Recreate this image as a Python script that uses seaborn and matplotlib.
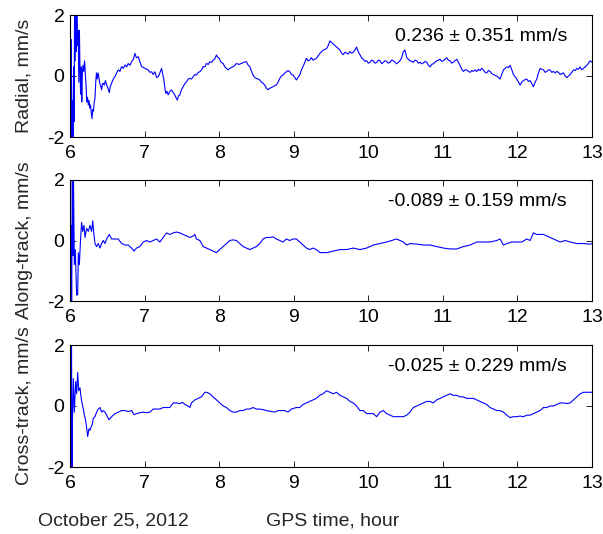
import matplotlib
matplotlib.use("Agg")
import matplotlib.pyplot as plt
import seaborn as sns
import pandas as pd

sns.set_style("ticks")
plt.rcParams["font.family"] = ["Liberation Sans", "DejaVu Sans"]

# ---------------- data ----------------
radial_t = [6.000, 6.005, 6.010, 6.018, 6.025, 6.032, 6.040, 6.048, 6.055, 6.062, 6.070, 6.078,
            6.086, 6.094, 6.102, 6.110, 6.118, 6.126, 6.134, 6.142, 6.150, 6.158, 6.166, 6.175,
            6.185, 6.195, 6.205, 6.215, 6.225, 6.235, 6.245, 6.255, 6.265, 6.275, 6.285, 6.295,
            6.305, 6.315, 6.325, 6.335, 6.345, 6.355, 6.365, 6.375, 6.385, 6.400, 6.415, 6.424,
            6.435, 6.446, 6.460, 6.475, 6.491, 6.510, 6.527, 6.540, 6.558, 6.580, 6.603, 6.625,
            6.647, 6.670, 6.692, 6.715, 6.737, 6.760, 6.781, 6.805, 6.826, 6.850, 6.871, 6.890,
            6.915, 6.940, 6.960, 6.985, 7.004, 7.030, 7.049, 7.070, 7.094, 7.115, 7.138, 7.160,
            7.183, 7.205, 7.228, 7.245, 7.259, 7.275, 7.286, 7.300, 7.317, 7.340, 7.362, 7.385,
            7.406, 7.420, 7.438, 7.455, 7.473, 7.495, 7.518, 7.540, 7.563, 7.585, 7.607, 7.630,
            7.652, 7.675, 7.696, 7.720, 7.741, 7.765, 7.786, 7.810, 7.830, 7.855, 7.875, 7.900,
            7.920, 7.940, 7.964, 7.985, 8.000, 8.025, 8.054, 8.075, 8.098, 8.120, 8.143, 8.165,
            8.188, 8.210, 8.232, 8.265, 8.299, 8.330, 8.366, 8.390, 8.411, 8.435, 8.455, 8.478,
            8.500, 8.523, 8.545, 8.567, 8.589, 8.612, 8.634, 8.656, 8.679, 8.700, 8.723, 8.745,
            8.768, 8.790, 8.813, 8.835, 8.857, 8.880, 8.902, 8.925, 8.946, 8.970, 8.991, 9.015,
            9.036, 9.058, 9.080, 9.103, 9.125, 9.150, 9.170, 9.192, 9.214, 9.237, 9.259, 9.282,
            9.304, 9.351, 9.396, 9.441, 9.463, 9.485, 9.508, 9.530, 9.553, 9.575, 9.598, 9.620,
            9.642, 9.664, 9.687, 9.709, 9.731, 9.754, 9.776, 9.799, 9.821, 9.843, 9.865, 9.888,
            9.910, 9.933, 9.955, 9.978, 10.000, 10.022, 10.045, 10.067, 10.090, 10.112, 10.135,
            10.157, 10.180, 10.201, 10.224, 10.246, 10.269, 10.291, 10.313, 10.336, 10.358,
            10.380, 10.403, 10.425, 10.448, 10.470, 10.492, 10.515, 10.537, 10.559, 10.582,
            10.604, 10.627, 10.649, 10.672, 10.694, 10.716, 10.738, 10.761, 10.783, 10.806,
            10.828, 10.850, 10.872, 10.895, 10.917, 10.940, 10.962, 10.985, 11.007, 11.030,
            11.051, 11.074, 11.096, 11.119, 11.141, 11.163, 11.186, 11.208, 11.230, 11.253,
            11.275, 11.298, 11.320, 11.342, 11.365, 11.387, 11.409, 11.432, 11.454, 11.477,
            11.499, 11.521, 11.544, 11.566, 11.588, 11.611, 11.633, 11.656, 11.678, 11.700,
            11.723, 11.745, 11.767, 11.790, 11.812, 11.835, 11.857, 11.880, 11.902, 11.925,
            11.946, 11.969, 11.991, 12.014, 12.036, 12.058, 12.081, 12.103, 12.125, 12.148,
            12.170, 12.193, 12.215, 12.237, 12.260, 12.282, 12.304, 12.327, 12.349, 12.372,
            12.394, 12.416, 12.438, 12.461, 12.483, 12.506, 12.528, 12.550, 12.573, 12.595,
            12.617, 12.640, 12.662, 12.685, 12.707, 12.730, 12.752, 12.775, 12.796, 12.819,
            12.841, 12.864, 12.886, 12.909, 12.931, 12.953, 12.975, 13.000]
radial_v = [0.0, 2.5, -2.5, 1.2, -2.5, -0.8, -2.5, 0.3, -1.5, 2.5, 0.5, 2.5,
            0.8, 2.5, 1.0, 1.5, -0.2, 1.5, 0.2, -0.6, 0.3, -0.85, 0.1, 0.35,
            0.15, 0.5, 0.1, -0.3, -0.85, -0.7, -0.95, -0.8, -1.05, -0.95, -1.2, -1.4,
            -1.1, -1.15, -0.85, -0.75, -0.2, 0.1, -0.1, 0.1, 0.0, -0.25, -0.35, -0.45,
            -0.25, -0.24, -0.3, -0.15, -0.29, -0.4, -0.55, -0.35, -0.24, -0.1, -0.02, 0.1,
            0.2, 0.15, 0.31, 0.25, 0.36, 0.3, 0.41, 0.35, 0.47, 0.55, 0.74, 0.6,
            0.63, 0.45, 0.31, 0.28, 0.25, 0.22, 0.20, 0.12, 0.14, 0.05, 0.14, -0.05,
            -0.02, 0.1, 0.25, 0.05, -0.13, -0.45, -0.57, -0.5, -0.62, -0.5, -0.46, -0.55,
            -0.62, -0.7, -0.79, -0.65, -0.62, -0.45, -0.35, -0.25, -0.19, -0.1, -0.08, -0.1,
            -0.02, 0.05, 0.03, 0.12, 0.14, 0.2, 0.31, 0.3, 0.41, 0.38, 0.47, 0.45,
            0.52, 0.55, 0.69, 0.6, 0.58, 0.45, 0.41, 0.3, 0.25, 0.2, 0.25, 0.28,
            0.31, 0.35, 0.41, 0.38, 0.41, 0.45, 0.47, 0.35, 0.31, 0.15, 0.03, -0.05,
            -0.08, -0.1, -0.13, -0.2, -0.24, -0.3, -0.4, -0.45, -0.40, -0.38, -0.35, -0.32,
            -0.29, -0.2, -0.08, 0.0, 0.03, 0.1, 0.14, 0.18, 0.14, 0.05, 0.03, -0.05,
            -0.13, -0.05, 0.03, 0.2, 0.31, 0.45, 0.58, 0.5, 0.52, 0.6, 0.52, 0.55,
            0.58, 0.74, 0.85, 0.90, 1.0, 1.15, 1.1, 1.05, 1.0, 0.95, 0.9, 0.85,
            0.75, 0.70, 0.78, 0.75, 0.72, 0.80, 0.75, 0.78, 0.85, 0.95, 0.8, 0.70,
            0.6, 0.55, 0.48, 0.50, 0.42, 0.45, 0.52, 0.50, 0.42, 0.45, 0.52,
            0.50, 0.4, 0.45, 0.5, 0.48, 0.42, 0.45, 0.52, 0.50, 0.45,
            0.40, 0.45, 0.50, 0.6, 0.80, 0.85, 0.60, 0.55, 0.50, 0.48,
            0.45, 0.52, 0.50, 0.42, 0.45, 0.4, 0.43, 0.48, 0.45, 0.35,
            0.30, 0.38, 0.40, 0.45, 0.50, 0.52, 0.55, 0.48, 0.50, 0.55,
            0.60, 0.52, 0.50, 0.42, 0.45, 0.5, 0.55, 0.45, 0.35, 0.22,
            0.15, 0.2, 0.20, 0.15, 0.12, 0.18, 0.15, 0.2, 0.15, 0.22,
            0.18, 0.25, 0.20, 0.12, 0.10, 0.18, 0.15, 0.08, 0.05, 0.02,
            0.00, -0.05, -0.10, 0.05, 0.20, 0.25, 0.30, 0.28, 0.35, 0.2,
            0.05, -0.02, -0.10, -0.2, -0.30, -0.2, -0.15, -0.12, -0.10, -0.18,
            -0.15, -0.25, -0.35, -0.2, -0.10, 0.1, 0.25, 0.22, 0.20, 0.12,
            0.15, 0.2, 0.20, 0.12, 0.15, 0.1, 0.15, 0.12, 0.05, 0.08,
            0.10, 0.0, -0.05, 0.0, 0.05, 0.12, 0.20, 0.18, 0.25, 0.22,
            0.30, 0.2, 0.25, 0.3, 0.35, 0.42, 0.50, 0.45]

along_t = [6.000, 6.007, 6.016, 6.022, 6.031, 6.038, 6.045, 6.058, 6.071, 6.089, 6.103, 6.112,
           6.125, 6.143, 6.156, 6.170, 6.188, 6.201, 6.223, 6.246, 6.268, 6.290, 6.304, 6.321,
           6.335, 6.357, 6.379, 6.402, 6.424, 6.446, 6.469, 6.491, 6.527, 6.558, 6.603, 6.647,
           6.692, 6.737, 6.781, 6.826, 6.857, 6.893, 6.938, 6.982, 7.027, 7.071, 7.116, 7.161,
           7.205, 7.250, 7.295, 7.339, 7.384, 7.429, 7.473, 7.518, 7.563, 7.607, 7.652, 7.674,
           7.696, 7.741, 7.786, 7.830, 7.875, 7.920, 7.964, 8.009, 8.054, 8.098, 8.143, 8.188,
           8.232, 8.277, 8.321, 8.366, 8.411, 8.455, 8.500, 8.545, 8.589, 8.634, 8.679, 8.723,
           8.768, 8.813, 8.857, 8.902, 8.946, 8.991, 9.036, 9.080, 9.125, 9.170, 9.214, 9.259,
           9.304, 9.351, 9.441, 9.530, 9.620, 9.709, 9.799, 9.888, 9.978, 10.067, 10.157,
           10.246, 10.313, 10.380, 10.425, 10.470, 10.515, 10.559, 10.649, 10.738, 10.828,
           10.917, 11.007, 11.096, 11.186, 11.275, 11.365, 11.454, 11.544, 11.633, 11.723,
           11.767, 11.812, 11.857, 11.924, 11.991, 12.058, 12.125, 12.170, 12.215, 12.260,
           12.304, 12.349, 12.394, 12.438, 12.483, 12.528, 12.573, 12.640, 12.707, 12.796,
           12.886, 12.975, 13.000]
along_v = [-0.5, -2.5, 0.5, -2.5, 2.5, -0.5, 2.5, -0.8, -0.3, -1.8, -1.8, -0.4,
           -0.8, 0.1, 0.6, 0.3, 0.5, 0.1, 0.4, 0.3, 0.5, 0.3, 0.65, 0.2,
           -0.1, -0.2, -0.1, -0.25, -0.1, 0.0, -0.1, 0.05, 0.2, 0.05, 0.05, 0.05,
           -0.1, -0.15, -0.15, -0.25, -0.35, -0.25, -0.2, -0.05, 0.0, -0.05, 0.0, 0.05,
           -0.05, 0.1, 0.25, 0.2, 0.25, 0.28, 0.25, 0.2, 0.15, 0.1, 0.15, 0.2,
           0.05, 0.0, -0.2, -0.25, -0.3, -0.35, -0.4, -0.3, -0.2, -0.1, 0.0, 0.02,
           0.0, -0.1, -0.2, -0.25, -0.3, -0.25, -0.2, -0.1, 0.05, 0.1, 0.1, 0.12,
           0.05, 0.0, -0.05, 0.05, 0.0, 0.05, 0.05, -0.05, -0.15, -0.25, -0.3, -0.25,
           -0.3, -0.4, -0.4, -0.35, -0.3, -0.3, -0.25, -0.3, -0.25, -0.15, -0.1,
           -0.05, 0.0, 0.05, 0.0, -0.05, -0.15, -0.1, -0.12, -0.15, -0.15,
           -0.2, -0.25, -0.28, -0.28, -0.2, -0.15, -0.05, -0.05, -0.05, 0.0,
           0.05, -0.15, -0.1, -0.05, -0.05, -0.05, 0.05, 0.0, 0.25, 0.2,
           0.2, 0.2, 0.15, 0.1, 0.05, 0.0, -0.05, 0.0, -0.05, -0.1,
           -0.1, -0.12, -0.1]

cross_t = [6.000, 6.006, 6.012, 6.020, 6.026, 6.031, 6.045, 6.058, 6.076, 6.089, 6.103, 6.116,
           6.134, 6.147, 6.161, 6.179, 6.192, 6.205, 6.223, 6.237, 6.254, 6.268, 6.281, 6.299,
           6.313, 6.335, 6.357, 6.379, 6.402, 6.424, 6.446, 6.469, 6.491, 6.522, 6.558, 6.603,
           6.647, 6.692, 6.737, 6.781, 6.826, 6.857, 6.893, 6.938, 6.982, 7.027, 7.071, 7.116,
           7.161, 7.205, 7.250, 7.295, 7.339, 7.384, 7.429, 7.473, 7.509, 7.540, 7.585, 7.607,
           7.629, 7.674, 7.719, 7.763, 7.808, 7.830, 7.875, 7.920, 7.964, 8.009, 8.054, 8.098,
           8.143, 8.188, 8.232, 8.277, 8.321, 8.366, 8.411, 8.455, 8.500, 8.545, 8.589, 8.634,
           8.679, 8.746, 8.790, 8.835, 8.879, 8.924, 8.969, 9.036, 9.080, 9.125, 9.170, 9.214,
           9.259, 9.304, 9.348, 9.393, 9.441, 9.485, 9.530, 9.575, 9.620, 9.664, 9.709, 9.754,
           9.799, 9.843, 9.888, 9.933, 9.978, 10.022, 10.067, 10.112, 10.157, 10.201, 10.246,
           10.291, 10.336, 10.380, 10.425, 10.470, 10.515, 10.559, 10.604, 10.649, 10.694,
           10.738, 10.783, 10.828, 10.872, 10.917, 10.962, 11.007, 11.051, 11.096, 11.141,
           11.186, 11.230, 11.275, 11.320, 11.365, 11.409, 11.454, 11.499, 11.544, 11.588,
           11.633, 11.678, 11.723, 11.767, 11.812, 11.857, 11.902, 11.946, 11.991, 12.036,
           12.081, 12.125, 12.170, 12.215, 12.260, 12.304, 12.349, 12.394, 12.438, 12.483,
           12.528, 12.573, 12.617, 12.662, 12.707, 12.752, 12.796, 12.841, 12.886, 12.931,
           12.975, 13.000]
cross_v = [-2.5, 2.5, -2.5, 2.5, -2.5, -0.7, 0.9, -0.2, 0.8, 0.4, 1.1, 0.5,
           0.6, 0.3, 0.1, -0.1, -0.3, -0.4, -0.7, -1.0, -0.75, -0.8, -0.7, -0.6,
           -0.4, -0.35, -0.2, -0.1, -0.05, -0.2, -0.15, -0.2, -0.3, -0.45, -0.35, -0.25,
           -0.2, -0.15, -0.15, -0.18, -0.15, -0.28, -0.25, -0.22, -0.2, -0.22, -0.2, -0.1,
           -0.1, -0.1, -0.05, -0.05, -0.05, 0.1, 0.1, 0.08, 0.12, 0.05, 0.0, -0.05,
           0.1, 0.2, 0.25, 0.3, 0.45, 0.45, 0.4, 0.3, 0.2, 0.1, 0.0, -0.05,
           -0.15, -0.2, -0.2, -0.15, -0.15, -0.1, -0.1, -0.05, -0.1, -0.1, -0.12, -0.15,
           -0.17, -0.2, -0.15, -0.15, -0.15, -0.2, -0.1, -0.05, -0.05, 0.05, 0.1, 0.15,
           0.2, 0.25, 0.35, 0.4, 0.5, 0.45, 0.4, 0.45, 0.35, 0.3, 0.25, 0.15,
           0.1, 0.0, -0.15, -0.15, -0.25, -0.25, -0.25, -0.35, -0.2, -0.15, -0.25,
           -0.3, -0.35, -0.35, -0.35, -0.35, -0.3, -0.2, -0.05, 0.0, 0.05,
           0.1, 0.15, 0.15, 0.1, 0.2, 0.25, 0.3, 0.35, 0.4, 0.35,
           0.35, 0.3, 0.3, 0.25, 0.25, 0.25, 0.2, 0.15, 0.1, 0.05,
           -0.05, -0.1, -0.15, -0.15, -0.2, -0.3, -0.38, -0.35, -0.35, -0.33,
           -0.35, -0.3, -0.3, -0.25, -0.2, -0.15, -0.05, -0.05, 0.0, 0.0,
           0.05, 0.1, 0.1, 0.08, 0.1, 0.2, 0.3, 0.4, 0.45, 0.45,
           0.45, 0.45]

panel_labels = ["Radial, mm/s", "Along-track, mm/s", "Cross-track, mm/s"]
panel_stats = ["0.236 \u00b1 0.351 mm/s", "-0.089 \u00b1 0.159 mm/s", "-0.025 \u00b1 0.229 mm/s"]
x_ticks = [6, 7, 8, 9, 10, 11, 12, 13]
y_ticks = [-2, 0, 2]

series = [(radial_t, radial_v), (along_t, along_v), (cross_t, cross_v)]

# ---------------- figure ----------------
W, H = 603, 534
fig = plt.figure(figsize=(W / 100, H / 100), dpi=100)
fig.patch.set_facecolor("white")

boxes_px = [(15, 137), (180, 301), (345, 467)]  # top, bottom in pixels
left_px, right_px = 70, 592
FS = 14

for (top, bot), (t, v), lab, stat in zip(boxes_px, series, panel_labels, panel_stats):
    ax = fig.add_axes([left_px / W, 1 - bot / H, (right_px - left_px) / W, (bot - top) / H])
    df = pd.DataFrame({"hour": t, "value": v})
    sns.lineplot(data=df, x="hour", y="value", ax=ax, color="#0000ff", linewidth=0.8,
                 sort=False, estimator=None)
    ax.set_xlim(6, 13)
    ax.set_ylim(-2, 2)
    ax.set_xticks(x_ticks)
    ax.set_yticks(y_ticks)
    ax.set_xticklabels([str(x) for x in x_ticks])
    ax.set_yticklabels([str(y) for y in y_ticks])
    ax.tick_params(direction="in", top=True, right=True, length=4, width=0.6,
                   labelsize=FS, colors="black")
    ax.tick_params(axis="x", pad=6)
    ax.tick_params(axis="y", pad=4)
    for s in ax.spines.values():
        s.set_visible(True)
        s.set_linewidth(0.8)
        s.set_color("black")
    ax.set_xlabel("")
    ax.set_ylabel(lab, fontsize=FS, va="center")
    ax.yaxis.set_label_coords(-0.088, 0.5)
    ax.text(0.952, 0.82, stat, transform=ax.transAxes, ha="right", va="center",
            fontsize=FS, color="black")

fig.text(38 / W, (H - 526) / H, "October 25, 2012", ha="left", va="baseline", fontsize=FS)
fig.text(333 / W, (H - 526) / H, "GPS time, hour", ha="center", va="baseline", fontsize=FS)

fig.savefig("out.png", dpi=100, facecolor="white")
